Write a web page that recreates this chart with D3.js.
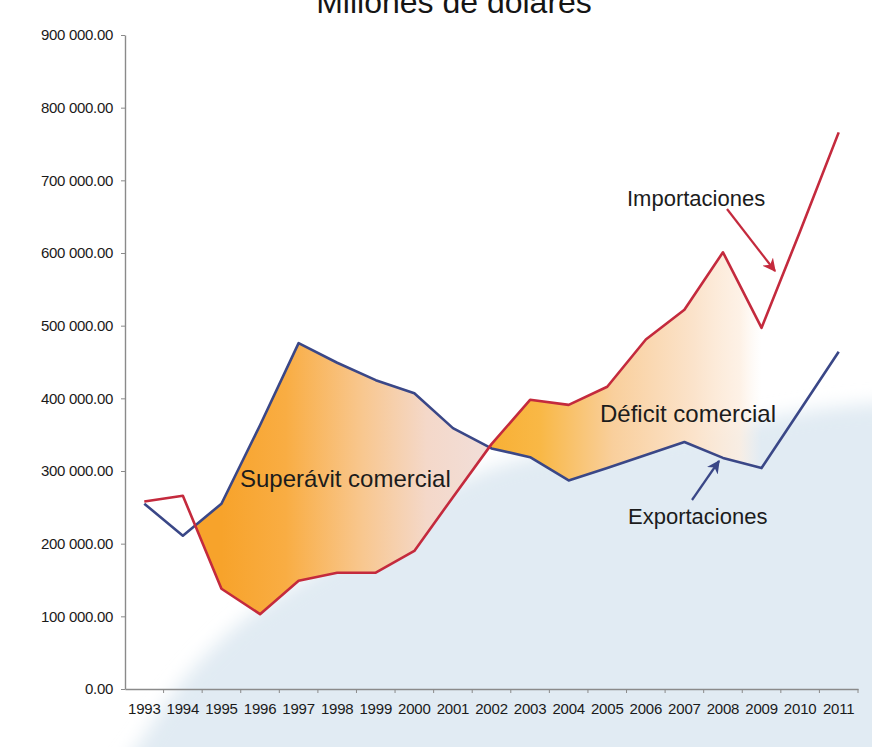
<!DOCTYPE html>
<html>
<head>
<meta charset="utf-8">
<script src="https://cdn.jsdelivr.net/npm/d3@7"></script>
<style>
  html, body { margin: 0; padding: 0; background: #ffffff; }
  svg { display: block; font-family: "Liberation Sans", Arial, sans-serif; }
</style>
</head>
<body>
<svg id="chart" width="872" height="747"></svg>
<script>
// Balanza comercial, millones de dólares
const years = [1993, 1994, 1995, 1996, 1997, 1998, 1999, 2000, 2001, 2002,
               2003, 2004, 2005, 2006, 2007, 2008, 2009, 2010, 2011];
const importaciones = [258000, 266000, 138000, 103000, 149000, 160000, 160000, 190000, 264000, 337000,
                       398000, 391000, 416000, 481000, 522000, 601000, 497000, 630000, 766000];
const exportaciones = [255000, 211000, 255000, 363000, 476000, 449000, 425000, 407000, 359000, 331000,
                       319000, 287000, 304000, 322000, 340000, 318000, 304000, 384000, 464000];
const yTicks = [0, 100000, 200000, 300000, 400000, 500000, 600000, 700000, 800000, 900000];

const title = "Millones de dólares";
const labelSuperavit = "Superávit comercial";
const labelDeficit = "Déficit comercial";
const labelImport = "Importaciones";
const labelExport = "Exportaciones";

const svg = d3.select("#chart");
const plotLeft = 125, plotRight = 858, plotTop = 35, plotBottom = 689;

const xBand = d3.scaleBand().domain(years).range([plotLeft, plotRight]).padding(0);
const x = d3.scalePoint().domain(years).range([plotLeft, plotRight]).padding(0.5);
const y = d3.scaleLinear().domain([0, 900000]).range([plotBottom, plotTop]);

const rows = years.map((yr, i) => ({ yr, imp: importaciones[i], exp: exportaciones[i] }));

const defs = svg.append("defs");

// soft backdrop shape
const blur = defs.append("filter").attr("id", "soft").attr("x", "-20%").attr("y", "-20%")
  .attr("width", "140%").attr("height", "140%");
blur.append("feGaussianBlur").attr("stdDeviation", 9);

svg.append("path")
  .attr("d", "M120,770 L145,735 C172,690 205,650 250,615 C300,580 360,545 420,505 C470,470 520,455 600,445 C680,435 740,422 800,412 C830,407 860,404 900,402 L900,770 Z")
  .attr("fill", "#e1ebf3")
  .attr("filter", "url(#soft)");

// gradients for the two gap regions
function gradient(id, x1, x2, stops) {
  const g = defs.append("linearGradient").attr("id", id)
    .attr("gradientUnits", "userSpaceOnUse")
    .attr("x1", x1).attr("x2", x2).attr("y1", 0).attr("y2", 0);
  stops.forEach(([o, c, a]) => g.append("stop").attr("offset", o).attr("stop-color", c)
    .attr("stop-opacity", a === undefined ? 1 : a));
}
gradient("gSup", x(1995), x(2001) + 25, [
  [0, "#f7a32b"], [0.25, "#f9ad43"], [0.55, "#f8c78f"], [0.8, "#f4d8c9"], [1, "#f2ddd6"]
]);
gradient("gDef", x(2002), x(2009), [
  [0, "#f8b035"], [0.18, "#f9b846"], [0.45, "#f9cf9c"], [0.75, "#fbe3cb"], [0.92, "#fdeee0", 0.8], [1, "#fdf3ea", 0]
]);

// region between the lines: clip one side by the other
function gapRegion(i0, i1, upperKey, lowerKey, fillId) {
  const sub = rows.slice(i0, i1 + 1);
  const clipId = "clip-" + fillId;
  defs.append("clipPath").attr("id", clipId)
    .append("path")
    .attr("d", d3.area().x(d => x(d.yr)).y0(plotBottom + 50).y1(d => y(d[upperKey]))(sub));
  svg.append("path")
    .attr("d", d3.area().x(d => x(d.yr)).y0(d => y(d[lowerKey])).y1(plotTop - 50)(sub))
    .attr("fill", `url(#${fillId})`)
    .attr("clip-path", `url(#${clipId})`);
}
gapRegion(1, 9, "exp", "imp", "gSup");
gapRegion(8, 16, "imp", "exp", "gDef");

// axes
const axisColor = "#8a8a8a";
const yAxis = svg.append("g").attr("transform", `translate(${plotLeft},0)`)
  .call(d3.axisLeft(y).tickValues(yTicks).tickSize(4).tickSizeOuter(0)
    .tickFormat(v => d3.format(",.2f")(v).replace(/,/g, " ")));
yAxis.select(".domain").attr("stroke", axisColor).attr("stroke-width", 1.4);
yAxis.selectAll(".tick line").attr("stroke", axisColor);
yAxis.selectAll(".tick text").attr("font-size", 15).attr("fill", "#1a1a1a").attr("x", -12)
  .attr("letter-spacing", -0.3)
  .attr("font-family", "'Liberation Sans', Arial, sans-serif");

const xAxis = svg.append("g").attr("transform", `translate(0,${plotBottom})`)
  .call(d3.axisBottom(xBand).tickSize(0).tickSizeOuter(0));
xAxis.select(".domain").attr("stroke", axisColor).attr("stroke-width", 1.6);
xAxis.selectAll(".tick text").attr("font-size", 15).attr("fill", "#1a1a1a").attr("dy", "1.45em")
  .attr("letter-spacing", -0.2)
  .attr("font-family", "'Liberation Sans', Arial, sans-serif");
xAxis.selectAll(".bound").data(years.slice(1).concat(["end"])).join("line")
  .attr("class", "bound")
  .attr("x1", d => d === "end" ? plotRight : xBand(d)).attr("x2", d => d === "end" ? plotRight : xBand(d))
  .attr("y1", 0).attr("y2", 4).attr("stroke", axisColor);

// series lines
const line = key => d3.line().x(d => x(d.yr)).y(d => y(d[key]))(rows);
svg.append("path").attr("d", line("exp")).attr("fill", "none")
  .attr("stroke", "#3a4787").attr("stroke-width", 2.6).attr("stroke-linejoin", "round");
svg.append("path").attr("d", line("imp")).attr("fill", "none")
  .attr("stroke", "#c42a3d").attr("stroke-width", 2.6).attr("stroke-linejoin", "round");

// title
svg.append("text").attr("x", 454).attr("y", 13).attr("text-anchor", "middle")
  .attr("font-size", 32).attr("fill", "#151515").text(title);

// annotations
svg.append("text").attr("x", 240).attr("y", 487).attr("font-size", 24).attr("fill", "#1c1c1c")
  .text(labelSuperavit);
svg.append("text").attr("x", 600).attr("y", 422).attr("font-size", 24).attr("fill", "#1c1c1c")
  .text(labelDeficit);
svg.append("text").attr("x", 627).attr("y", 206).attr("font-size", 22).attr("fill", "#1c1c1c")
  .text(labelImport);
svg.append("text").attr("x", 628).attr("y", 524).attr("font-size", 22).attr("fill", "#1c1c1c")
  .text(labelExport);

function arrowHead(id, color) {
  defs.append("marker").attr("id", id).attr("viewBox", "0 0 10 10")
    .attr("refX", 9).attr("refY", 5).attr("markerWidth", 6).attr("markerHeight", 6)
    .attr("orient", "auto")
    .append("path").attr("d", "M0,0 L10,5 L0,10 L3,5 Z").attr("fill", color);
}
arrowHead("ahRed", "#c42a3d");
arrowHead("ahBlue", "#3a4787");
svg.append("line").attr("x1", 727).attr("y1", 209).attr("x2", 775).attr("y2", 271)
  .attr("stroke", "#c42a3d").attr("stroke-width", 2.2).attr("marker-end", "url(#ahRed)");
svg.append("line").attr("x1", 692).attr("y1", 500).attr("x2", 719).attr("y2", 461)
  .attr("stroke", "#3a4787").attr("stroke-width", 2.2).attr("marker-end", "url(#ahBlue)");
</script>
</body>
</html>
